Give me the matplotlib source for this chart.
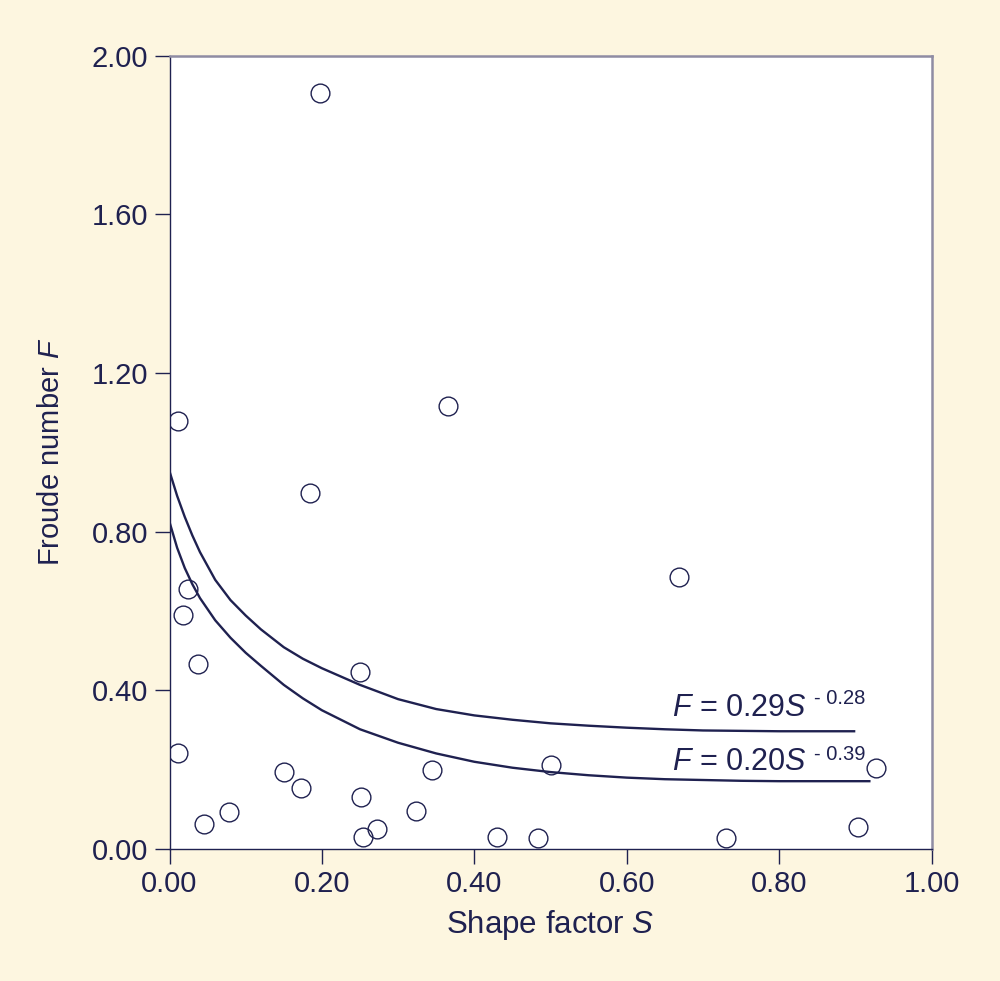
import numpy as np
import matplotlib
matplotlib.use("Agg")
import matplotlib.pyplot as plt

# observed points (shape factor S, Froude number F)
shape_s = [0.1975, 0.011, 0.3655, 0.1848, 0.669, 0.0247, 0.0173, 0.037, 0.2504,
           0.0108, 0.150, 0.1726, 0.3445, 0.5007, 0.9268, 0.0453, 0.078, 0.2513,
           0.254, 0.2723, 0.3235, 0.4294, 0.4832, 0.7303, 0.9035]
froude_f = [1.906, 1.078, 1.116, 0.896, 0.685, 0.656, 0.589, 0.465, 0.4445,
            0.241, 0.193, 0.153, 0.198, 0.2106, 0.2023, 0.0618, 0.092, 0.130,
            0.029, 0.0492, 0.0946, 0.0283, 0.0257, 0.0272, 0.0542]

# fitted curves
upper_s = [0.0, 0.01, 0.02, 0.03, 0.04, 0.06, 0.08, 0.10, 0.12, 0.15, 0.175, 0.20,
           0.25, 0.30, 0.35, 0.40, 0.45, 0.50, 0.55, 0.60, 0.65, 0.70, 0.75,
           0.80, 0.85, 0.90]
upper_f = [0.952, 0.890, 0.837, 0.790, 0.748, 0.678, 0.627, 0.588, 0.553, 0.508,
           0.479, 0.455, 0.413, 0.377, 0.352, 0.336, 0.325, 0.316, 0.310, 0.305,
           0.301, 0.298, 0.297, 0.296, 0.296, 0.296]
lower_s = [0.0, 0.01, 0.02, 0.03, 0.04, 0.06, 0.08, 0.10, 0.12, 0.15, 0.175, 0.20,
           0.25, 0.30, 0.35, 0.40, 0.45, 0.50, 0.55, 0.60, 0.65, 0.70, 0.75,
           0.80, 0.85, 0.92]
lower_f = [0.824, 0.759, 0.708, 0.667, 0.632, 0.576, 0.532, 0.494, 0.461, 0.413,
           0.379, 0.349, 0.301, 0.267, 0.240, 0.219, 0.204, 0.193, 0.185, 0.179,
           0.175, 0.173, 0.171, 0.170, 0.170, 0.170]

x_ticks = [0.0, 0.2, 0.4, 0.6, 0.8, 1.0]
y_ticks = [0.0, 0.4, 0.8, 1.2, 1.6, 2.0]

navy = "#1f2150"
grey = "#8f8ca3"
cream = "#fdf6e0"

plt.rcParams["font.family"] = ["Liberation Sans", "DejaVu Sans"]
plt.rcParams["mathtext.fontset"] = "custom"
plt.rcParams["mathtext.it"] = "Liberation Sans:italic"
plt.rcParams["mathtext.rm"] = "Liberation Sans"

fig = plt.figure(figsize=(10, 9.81), dpi=100, facecolor=cream)
ax = fig.add_axes([0.1695, 0.135, 0.762, 0.808])
ax.set_facecolor("white")

ax.plot(upper_s, upper_f, color=navy, lw=1.7, solid_capstyle="butt",
        solid_joinstyle="round")
ax.plot(lower_s, lower_f, color=navy, lw=1.7, solid_capstyle="butt",
        solid_joinstyle="round")
ax.plot(shape_s, froude_f, "o", ms=13.5, mfc="none", mec=navy, mew=1.0)

ax.set_xlim(0, 1)
ax.set_ylim(0, 2)
ax.set_xticks(x_ticks)
ax.set_yticks(y_ticks)
ax.set_xticklabels([f"{v:.2f}" for v in x_ticks])
ax.set_yticklabels([f"{v:.2f}" for v in y_ticks])
ax.tick_params(axis="both", direction="out", length=10.5, width=1.0,
               color=navy, labelcolor=navy, labelsize=21, pad=5)
for t in ax.yaxis.get_major_ticks()[1:]:
    t.tick1line.set_color(grey)
ax.xaxis.get_major_ticks()[-1].tick1line.set_color(grey)

ax.spines["left"].set_color(navy)
ax.spines["bottom"].set_color(navy)
ax.spines["left"].set_linewidth(1.0)
ax.spines["bottom"].set_linewidth(1.0)
for s in ("top", "right"):
    ax.spines[s].set_color(grey)
    ax.spines[s].set_linewidth(1.8)

ax.set_xlabel("Shape factor $\\mathit{S}$", fontsize=22.5, color=navy, labelpad=7)
ax.set_ylabel("Froude number $\\mathit{F}$", fontsize=21, color=navy, labelpad=19)

# equation labels
ax.text(0.659, 0.335, "$\\mathit{F}$ = 0.29$\\mathit{S}$", fontsize=22, color=navy,
        va="baseline", ha="left")
ax.text(0.846, 0.366, "- 0.28", fontsize=14.5, color=navy, va="baseline", ha="left")
ax.text(0.659, 0.198, "$\\mathit{F}$ = 0.20$\\mathit{S}$", fontsize=22, color=navy,
        va="baseline", ha="left")
ax.text(0.846, 0.2225, "- 0.39", fontsize=14.5, color=navy, va="baseline", ha="left")

fig.savefig("out.png", dpi=100, facecolor=cream)
